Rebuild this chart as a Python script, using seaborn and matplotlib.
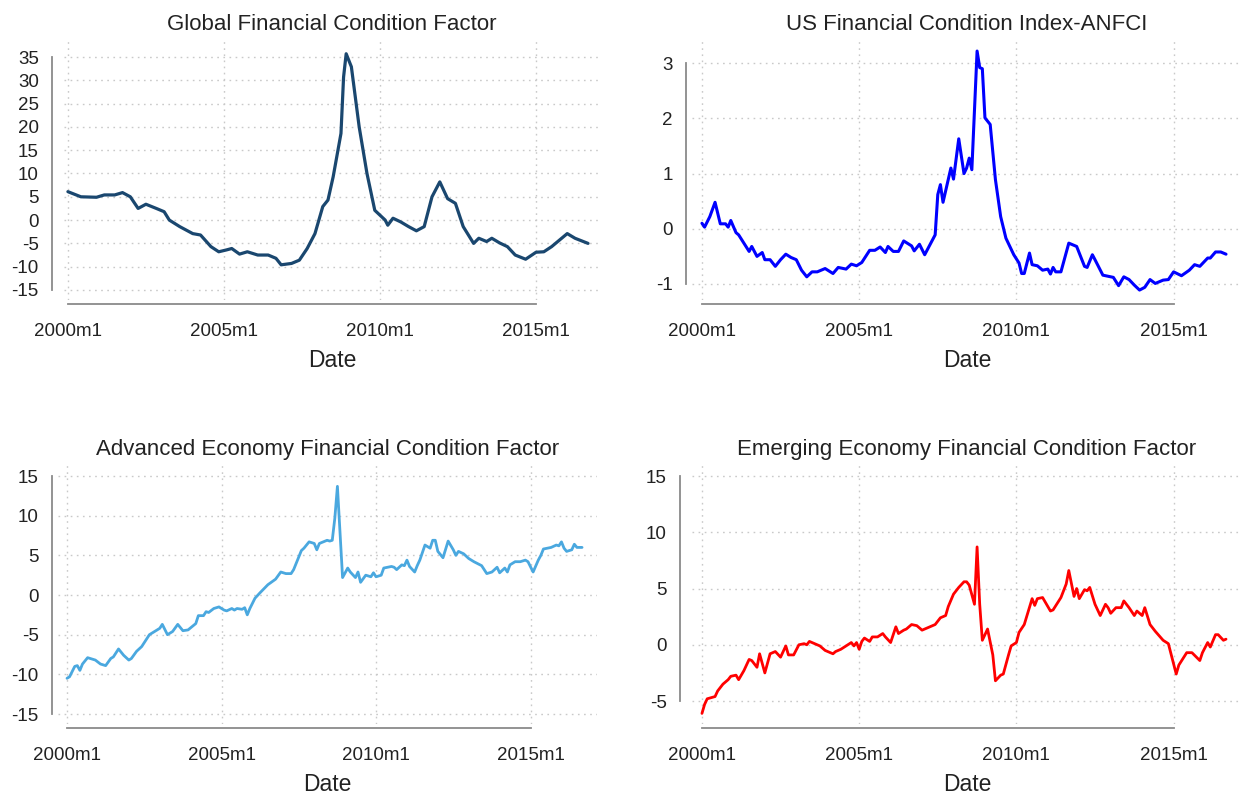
import matplotlib
matplotlib.use("Agg")
import matplotlib.pyplot as plt
import seaborn as sns
import pandas as pd

# Months are counted from 2000m1 (0 = January 2000)
tick_months = [0, 60, 120, 180]
tick_labels = ["2000m1", "2005m1", "2010m1", "2015m1"]

global_months = [0, 5, 11, 14, 18, 21, 24, 27, 30, 34, 37, 39, 43, 48, 51, 55, 58, 61, 63, 66,
                 69, 73, 77, 80, 82, 86, 89, 92, 95, 98, 100, 102, 105, 106, 107, 109, 112, 115, 118, 122,
                 123, 125, 128, 131, 134, 137, 140, 143, 146, 149, 152, 156, 158, 161, 163, 166, 169, 172, 176, 180,
                 183, 186, 189, 192, 195, 200]
global_values = [6.1, 5.0, 4.9, 5.4, 5.4, 5.9, 5.0, 2.5, 3.4, 2.5, 1.8, 0.0, -1.4, -2.9, -3.2, -5.7, -6.8, -6.4, -6.1, -7.3,
                 -6.8, -7.5, -7.5, -8.2, -9.6, -9.3, -8.6, -6.1, -2.9, 2.9, 4.3, 9.3, 18.6, 30.7, 35.7, 32.9, 20.0, 10.0, 2.1, 0.0,
                 -1.1, 0.4, -0.4, -1.4, -2.3, -1.4, 5.0, 8.2, 4.6, 3.6, -1.4, -5.0, -3.9, -4.6, -3.9, -4.9, -5.7, -7.5, -8.4, -6.9,
                 -6.8, -5.7, -4.3, -2.9, -3.9, -5.0]

us_months = [0, 1, 3, 5, 7, 9, 10, 11, 13, 14, 16, 18, 19, 21, 23, 24, 26, 28, 30, 32,
             34, 36, 38, 40, 42, 44, 47, 50, 52, 55, 57, 59, 61, 64, 66, 68, 70, 71, 73, 75,
             77, 80, 81, 83, 85, 87, 89, 90, 91, 92, 95, 96, 98, 100, 101, 102, 103, 105, 106, 107,
             108, 110, 112, 114, 116, 119, 121, 122, 123, 125, 126, 128, 130, 132, 133, 134, 135, 137, 140, 143,
             146, 147, 149, 150, 153, 157, 159, 161, 163, 165, 167, 169, 171, 173, 176, 178, 180, 183, 186, 188,
             190, 193, 194, 196, 198, 200]
us_values = [0.10, 0.03, 0.22, 0.48, 0.09, 0.09, 0.03, 0.15, -0.07, -0.11, -0.26, -0.41, -0.32, -0.50, -0.43, -0.56, -0.56, -0.68, -0.56, -0.46,
             -0.52, -0.56, -0.75, -0.87, -0.78, -0.78, -0.72, -0.81, -0.70, -0.73, -0.64, -0.67, -0.61, -0.39, -0.39, -0.33, -0.43, -0.32, -0.41, -0.41,
             -0.22, -0.31, -0.40, -0.28, -0.47, -0.29, -0.11, 0.62, 0.80, 0.48, 1.10, 0.90, 1.63, 1.00, 1.10, 1.28, 1.07, 3.22, 2.92, 2.90,
             2.01, 1.89, 0.89, 0.22, -0.17, -0.47, -0.62, -0.81, -0.81, -0.44, -0.65, -0.67, -0.75, -0.73, -0.82, -0.70, -0.78, -0.78, -0.26, -0.32,
             -0.68, -0.70, -0.47, -0.56, -0.84, -0.88, -1.03, -0.87, -0.92, -1.02, -1.11, -1.06, -0.92, -0.99, -0.93, -0.92, -0.78, -0.85, -0.75, -0.65,
             -0.68, -0.53, -0.53, -0.42, -0.42, -0.46]

adv_months = [0, 1, 3, 4, 5, 6, 8, 11, 13, 15, 17, 18, 20, 22, 24, 25, 27, 29, 32, 34,
              36, 37, 39, 41, 43, 45, 47, 50, 51, 53, 54, 55, 57, 59, 61, 62, 64, 65, 66, 68,
              69, 70, 71, 73, 75, 78, 81, 83, 85, 87, 88, 91, 92, 94, 96, 97, 98, 101, 102, 103,
              104, 105, 107, 109, 110, 112, 113, 114, 116, 118, 119, 120, 122, 123, 126, 127, 128, 130, 131, 132,
              133, 135, 136, 137, 139, 141, 142, 143, 144, 146, 148, 150, 151, 152, 154, 156, 158, 161, 162, 163,
              165, 167, 168, 170, 171, 172, 174, 176, 178, 179, 181, 183, 184, 185, 188, 190, 191, 192, 193, 194,
              196, 197, 198, 200]
adv_values = [-10.5, -10.3, -9.0, -8.9, -9.5, -8.7, -7.9, -8.2, -8.7, -8.9, -8.0, -7.8, -6.8, -7.6, -8.2, -8.0, -7.1, -6.5, -5.0, -4.6,
              -4.2, -3.7, -5.0, -4.6, -3.7, -4.5, -4.4, -3.6, -2.6, -2.6, -2.1, -2.2, -1.7, -1.5, -1.9, -2.0, -1.7, -1.9, -1.7, -1.8,
              -1.6, -2.5, -1.7, -0.4, 0.3, 1.3, 2.0, 2.9, 2.7, 2.7, 3.2, 5.6, 5.9, 6.7, 6.5, 5.7, 6.5, 6.9, 6.8, 6.9,
              9.7, 13.7, 2.2, 3.4, 2.9, 2.2, 2.9, 1.6, 2.5, 2.3, 2.8, 2.3, 2.5, 3.4, 3.6, 3.5, 3.2, 3.8, 3.7, 4.4,
              3.6, 2.9, 3.7, 4.4, 6.3, 5.9, 6.9, 6.9, 5.5, 4.7, 6.8, 5.7, 5.0, 5.5, 5.2, 4.6, 4.2, 3.7, 3.2, 2.7,
              2.9, 3.5, 2.8, 3.4, 2.9, 3.8, 4.2, 4.2, 4.4, 4.2, 2.9, 4.4, 5.0, 5.8, 6.0, 6.3, 6.2, 6.7, 5.9, 5.5,
              5.7, 6.4, 6.0, 6.0]

emg_months = [0, 1, 2, 5, 6, 8, 10, 11, 13, 14, 16, 18, 19, 21, 22, 24, 26, 28, 30, 32,
              33, 35, 37, 39, 40, 41, 43, 45, 47, 48, 50, 51, 53, 55, 57, 58, 59, 60, 61, 62,
              64, 65, 67, 69, 70, 72, 74, 75, 77, 78, 80, 82, 84, 86, 89, 91, 93, 94, 96, 98,
              100, 101, 102, 104, 105, 106, 107, 109, 111, 112, 114, 115, 117, 118, 120, 121, 123, 126, 127, 128,
              130, 133, 134, 137, 139, 140, 142, 143, 144, 146, 147, 148, 150, 152, 154, 155, 156, 158, 160, 161,
              163, 165, 166, 168, 169, 171, 173, 176, 178, 181, 182, 185, 187, 190, 191, 193, 194, 196, 197, 199,
              200]
emg_values = [-6.1, -5.3, -4.8, -4.6, -4.1, -3.5, -3.1, -2.8, -2.7, -3.1, -2.3, -1.3, -1.4, -2.0, -0.8, -2.5, -0.8, -0.6, -1.1, -0.1,
              -0.9, -0.9, 0.0, 0.1, 0.0, 0.3, 0.1, -0.1, -0.5, -0.6, -0.8, -0.6, -0.4, -0.1, 0.2, -0.1, 0.2, -0.4, 0.3, 0.6,
              0.3, 0.7, 0.7, 1.0, 0.7, 0.2, 1.6, 1.0, 1.3, 1.4, 1.8, 1.7, 1.3, 1.5, 1.8, 2.4, 2.6, 3.4, 4.5, 5.1,
              5.6, 5.6, 5.3, 3.6, 8.7, 3.6, 0.4, 1.4, -0.9, -3.2, -2.7, -2.6, -0.9, -0.1, 0.2, 1.1, 1.8, 4.1, 3.5, 4.1,
              4.2, 3.0, 3.1, 4.2, 5.4, 6.6, 4.3, 5.0, 4.1, 4.9, 4.8, 5.1, 3.6, 2.6, 3.6, 3.3, 2.8, 3.3, 3.3, 3.9,
              3.3, 2.6, 3.0, 2.6, 3.3, 1.8, 1.2, 0.4, 0.1, -2.6, -1.8, -0.7, -0.7, -1.4, -0.7, 0.2, -0.2, 0.9, 0.9, 0.4,
              0.5]

titles = ["Global Financial Condition Factor", "US Financial Condition Index-ANFCI",
          "Advanced Economy Financial Condition Factor", "Emerging Economy Financial Condition Factor"]

sns.set_theme(style="white")
plt.rcParams["font.family"] = ["Liberation Sans", "DejaVu Sans"]

W, H = 1242, 798
fig = plt.figure(figsize=(W / 100, H / 100), dpi=100)

AXIS_GRAY = "#8a8a8a"
GRID_GRAY = "#c9c9c9"
TEXT = "#222222"

# panel layout in pixels: (x0, x1, y_top, y_bottom), x-limits, y-limits, y ticks, left spine offset
panels = [
    dict(box=(64, 600, 40, 300), xlim=(-1.5, 204.6), ylim=(-17.15, 38.65),
         yticks=list(range(-15, 36, 5)), left_off=12,
         months=global_months, values=global_values, color="#1a476f", lw=2.3),
    dict(box=(692, 1242, 40, 300), xlim=(-3.8, 206.1), ylim=(-1.29, 3.42),
         yticks=[-1, 0, 1, 2, 3], left_off=6,
         months=us_months, values=us_values, color="#0000ff", lw=2.2),
    dict(box=(58, 597, 465, 724), xlim=(-3.5, 205.8), ylim=(-16.26, 16.39),
         yticks=list(range(-15, 16, 5)), left_off=6,
         months=adv_months, values=adv_values, color="#4aa8df", lw=2.0),
    dict(box=(692, 1242, 465, 724), xlim=(-3.8, 206.1), ylim=(-7.04, 15.98),
         yticks=[-5, 0, 5, 10, 15], left_off=12,
         months=emg_months, values=emg_values, color="#ff0000", lw=2.0),
]

for p, title in zip(panels, titles):
    x0, x1, yt, yb = p["box"]
    ax = fig.add_axes([x0 / W, 1 - yb / H, (x1 - x0) / W, (yb - yt) / H])
    df = pd.DataFrame({"month": p["months"], "value": p["values"]})
    sns.lineplot(data=df, x="month", y="value", ax=ax, color=p["color"],
                 linewidth=p["lw"], estimator=None, sort=True)

    ax.set_xlim(*p["xlim"])
    ax.set_ylim(*p["ylim"])
    ax.set_xticks(tick_months)
    ax.set_xticklabels(tick_labels)
    ax.set_yticks(p["yticks"])
    ax.set_yticklabels([str(t) for t in p["yticks"]])

    ax.grid(True, color=GRID_GRAY, linestyle=(0, (1.2, 3.2)), linewidth=1.0)
    ax.set_axisbelow(True)

    for side in ("top", "right"):
        ax.spines[side].set_visible(False)
    ax.spines["left"].set_position(("outward", p["left_off"] * 0.72))
    ax.spines["bottom"].set_position(("outward", 4 * 0.72))
    ax.spines["left"].set_bounds(p["yticks"][0], p["yticks"][-1])
    ax.spines["bottom"].set_bounds(tick_months[0], tick_months[-1])
    for side in ("left", "bottom"):
        ax.spines[side].set_color(AXIS_GRAY)
        ax.spines[side].set_linewidth(1.3)

    ax.tick_params(axis="both", which="major", direction="out", length=5.5, width=1.2,
                   color=AXIS_GRAY, labelsize=13.5, labelcolor=TEXT)
    ax.tick_params(axis="x", pad=8)
    ax.tick_params(axis="y", pad=4)

    ax.set_xlabel("Date", fontsize=16.5, color=TEXT, labelpad=7)
    ax.set_ylabel("")
    ax.set_title(title, fontsize=16, color=TEXT, pad=7)

fig.savefig("out.png", dpi=100, facecolor="white")
